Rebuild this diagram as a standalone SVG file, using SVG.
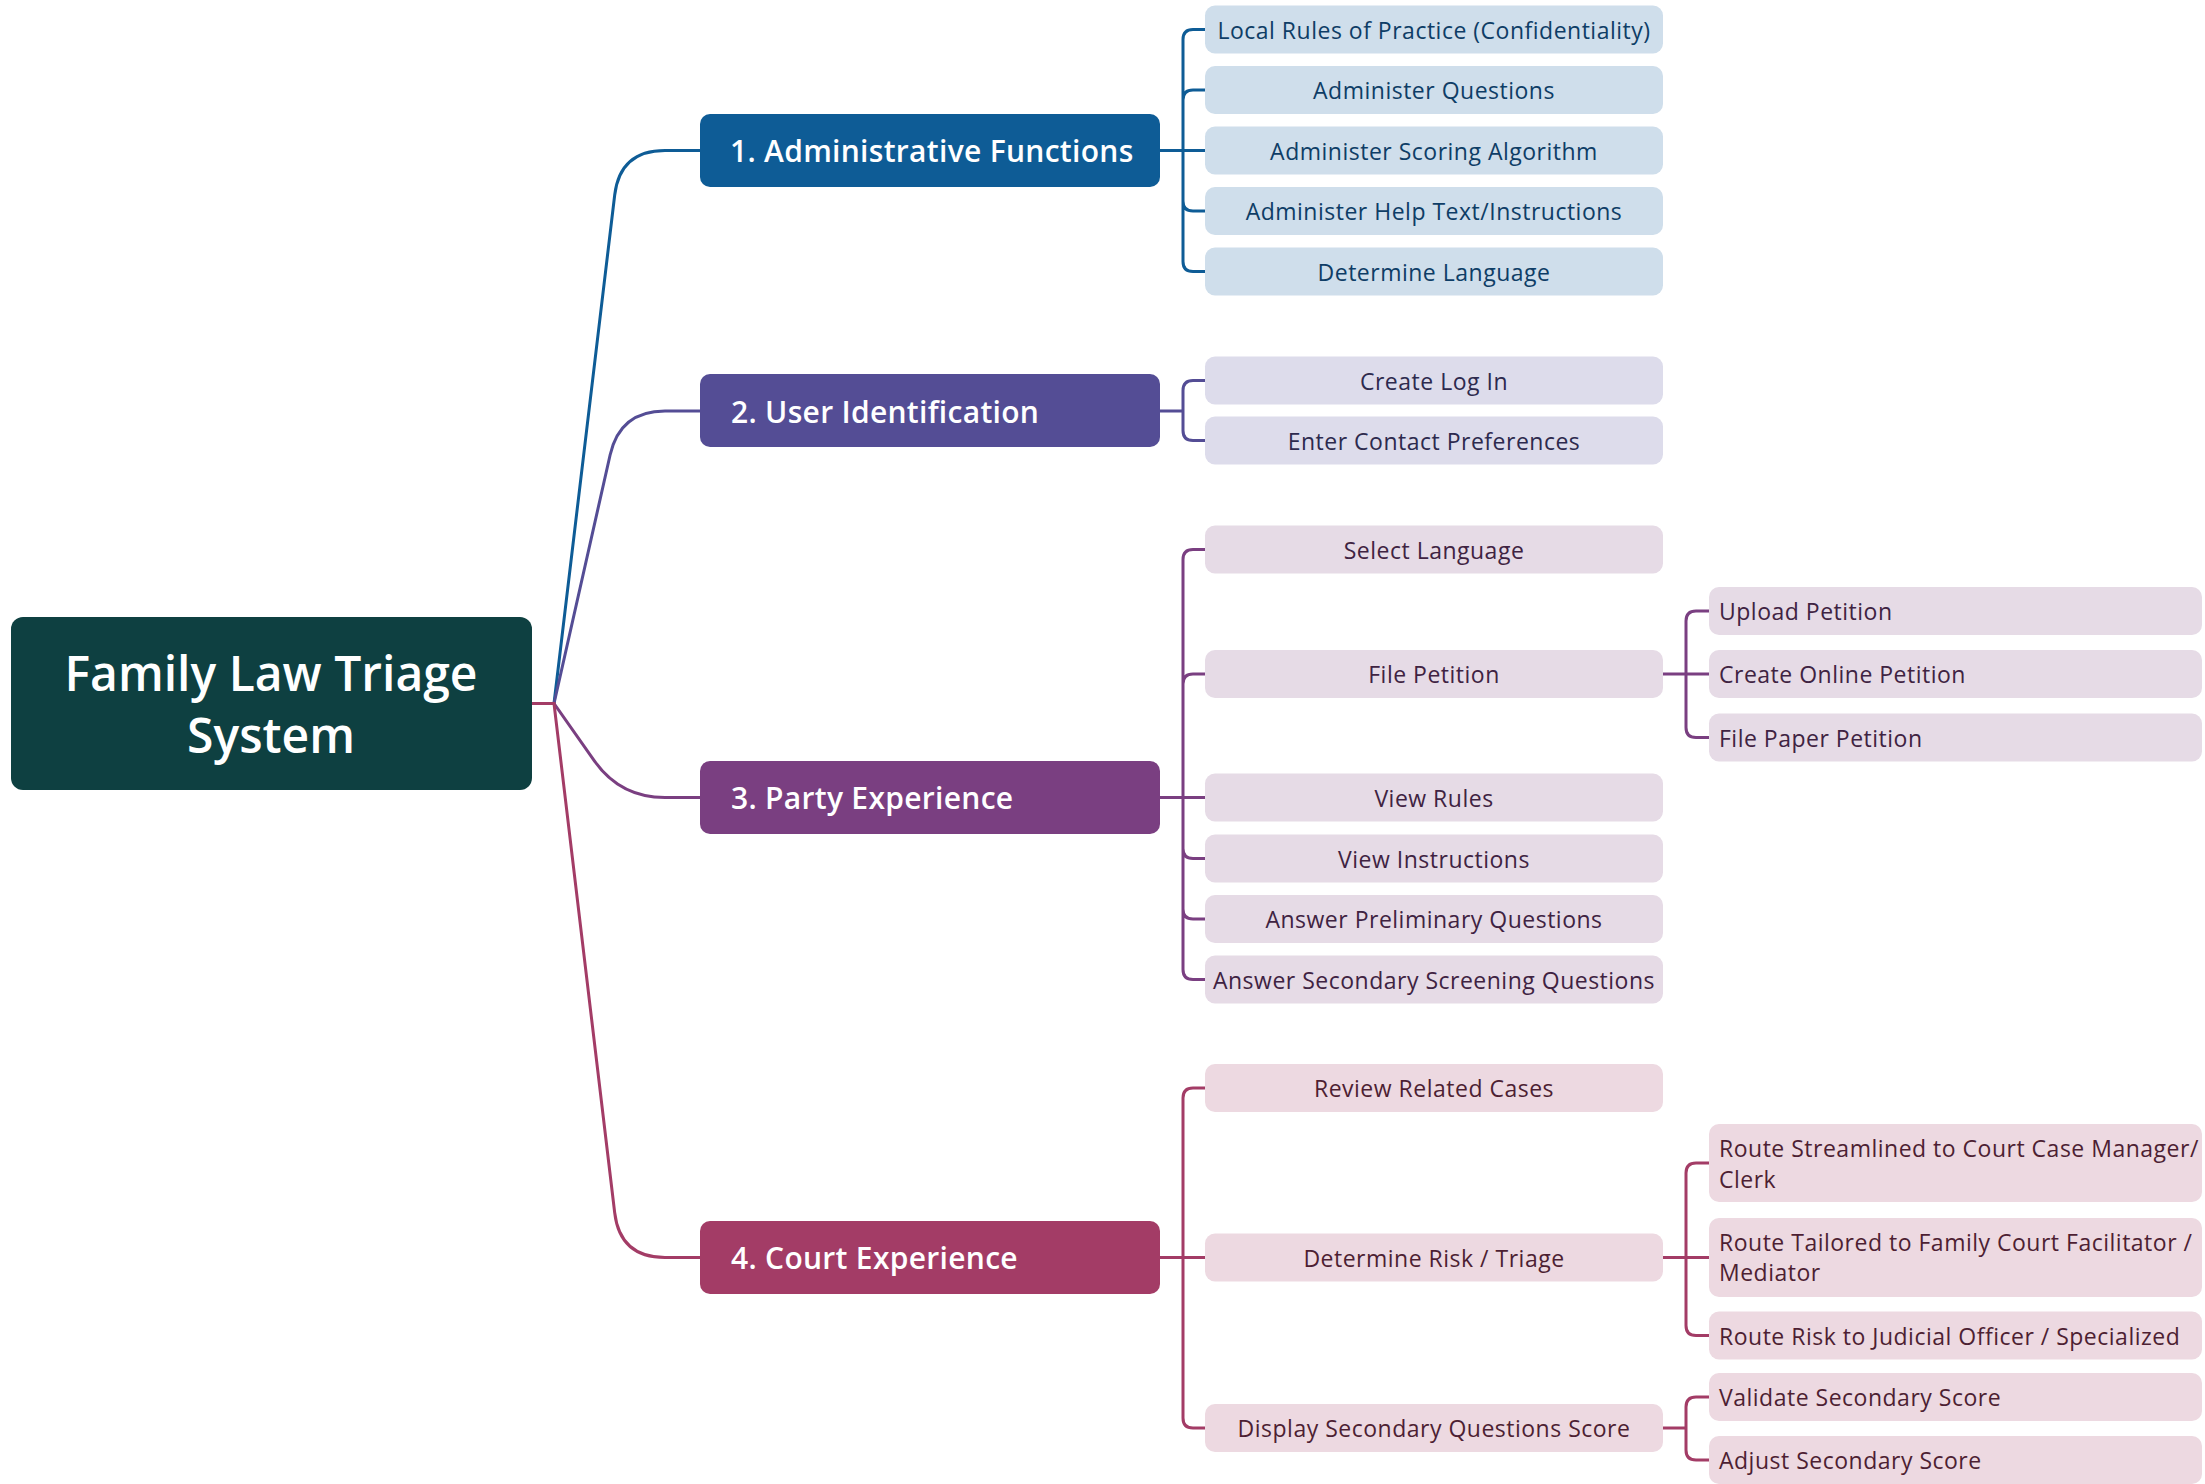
<svg xmlns="http://www.w3.org/2000/svg" width="2205" height="1484" viewBox="0 0 2205 1484">
<style>
text{font-family:"Open Sans","Liberation Sans",sans-serif;dominant-baseline:central}
.root rect{fill:#0e4041}
.root text{fill:#fff;font-size:48px;font-weight:600;text-anchor:middle}
.main text{fill:#fff;font-size:30px;font-weight:600;letter-spacing:0.3px}
.c text{font-size:23px;letter-spacing:0.5px;text-anchor:middle}
.g text{font-size:23px;letter-spacing:0.5px}
.b1 .box{fill:#0e5c96}.b2 .box{fill:#544d95}.b3 .box{fill:#7a3f81}.b4 .box{fill:#a33c66}
.k1 rect{fill:#cfdeeb}.k1 text{fill:#0e3d66}
.k2 rect{fill:#dddceb}.k2 text{fill:#2d2a4e}
.k3 rect{fill:#e6dbe6}.k3 text{fill:#3f2342}
.k4 rect{fill:#edd9e1}.k4 text{fill:#4d1f33}
.ln{fill:none;stroke-width:3}
.l1{stroke:#0e5c96}.l2{stroke:#544d95}.l3{stroke:#7a3f81}.l4{stroke:#a33c66}
</style>
<g id="connectors">
<path class="ln l1" d="M532,703.5 L554,703.5 L614.7,195 Q620,150.5 665,150.5 L700,150.5"/>
<path class="ln l2" d="M532,703.5 L554,703.5 L610.1,455 Q620,411 665,411 L700,411"/>
<path class="ln l3" d="M532,703.5 L554,703.5 L594.2,760.6 Q620,797.5 665,797.5 L700,797.5"/>
<path class="ln l4" d="M532,703.5 L554,703.5 L614.7,1212.8 Q620,1257.5 665,1257.5 L700,1257.5"/>
<path class="ln l1" d="M1160,150.5 H1183 V39.5 Q1183,29.5 1193,29.5 H1205 M1183,150.5 V100 Q1183,90 1193,90 H1205 M1160,150.5 H1205 M1183,150.5 V201 Q1183,211 1193,211 H1205 M1183,150.5 V261.5 Q1183,271.5 1193,271.5 H1205"/>
<path class="ln l2" d="M1160,411 H1183 V390.5 Q1183,380.5 1193,380.5 H1205 M1183,411 V430.5 Q1183,440.5 1193,440.5 H1205"/>
<path class="ln l3" d="M1160,797.5 H1183 V559.5 Q1183,549.5 1193,549.5 H1205 M1183,797.5 V684 Q1183,674 1193,674 H1205 M1160,797.5 H1205 M1183,797.5 V848.5 Q1183,858.5 1193,858.5 H1205 M1183,797.5 V909 Q1183,919 1193,919 H1205 M1183,797.5 V969.5 Q1183,979.5 1193,979.5 H1205"/>
<path class="ln l3" d="M1663,674 H1686 V621 Q1686,611 1696,611 H1709 M1663,674 H1709 M1686,674 V727.5 Q1686,737.5 1696,737.5 H1709"/>
<path class="ln l4" d="M1160,1257.5 H1183 V1098 Q1183,1088 1193,1088 H1205 M1160,1257.5 H1205 M1183,1257.5 V1418 Q1183,1428 1193,1428 H1205"/>
<path class="ln l4" d="M1663,1257.5 H1686 V1173 Q1686,1163 1696,1163 H1709 M1663,1257.5 H1709 M1686,1257.5 V1325.5 Q1686,1335.5 1696,1335.5 H1709"/>
<path class="ln l4" d="M1663,1428 H1686 V1407 Q1686,1397 1696,1397 H1709 M1686,1428 V1450 Q1686,1460 1696,1460 H1709"/>
</g>
<g id="root" class="root"><rect x="11" y="617" width="521" height="173" rx="12"/><text x="271" y="672">Family Law Triage</text><text x="271" y="734">System</text></g>
<g id="n1" class="main b1"><rect class="box" x="700" y="114" width="460" height="73" rx="10"/><text x="730" y="150.5">1. Administrative Functions</text></g>
<g id="n2" class="main b2"><rect class="box" x="700" y="374" width="460" height="73" rx="10"/><text x="731" y="411">2. User Identification</text></g>
<g id="n3" class="main b3"><rect class="box" x="700" y="761" width="460" height="73" rx="10"/><text x="731" y="797.5">3. Party Experience</text></g>
<g id="n4" class="main b4"><rect class="box" x="700" y="1221" width="460" height="73" rx="10"/><text x="731" y="1257.5">4. Court Experience</text></g>
<g class="c k1">
<g id="n1a"><rect x="1205" y="5.5" width="458" height="48" rx="10"/><text x="1434" y="29.5">Local Rules of Practice (Confidentiality)</text></g>
<g id="n1b"><rect x="1205" y="66" width="458" height="48" rx="10"/><text x="1434" y="90">Administer Questions</text></g>
<g id="n1c"><rect x="1205" y="126.5" width="458" height="48" rx="10"/><text x="1434" y="150.5">Administer Scoring Algorithm</text></g>
<g id="n1d"><rect x="1205" y="187" width="458" height="48" rx="10"/><text x="1434" y="211">Administer Help Text/Instructions</text></g>
<g id="n1e"><rect x="1205" y="247.5" width="458" height="48" rx="10"/><text x="1434" y="271.5">Determine Language</text></g>
</g>
<g class="c k2">
<g id="n2a"><rect x="1205" y="356.5" width="458" height="48" rx="10"/><text x="1434" y="380.5">Create Log In</text></g>
<g id="n2b"><rect x="1205" y="416.5" width="458" height="48" rx="10"/><text x="1434" y="440.5">Enter Contact Preferences</text></g>
</g>
<g class="c k3">
<g id="n3a"><rect x="1205" y="525.5" width="458" height="48" rx="10"/><text x="1434" y="549.5">Select Language</text></g>
<g id="n3b"><rect x="1205" y="650" width="458" height="48" rx="10"/><text x="1434" y="674">File Petition</text></g>
<g id="n3c"><rect x="1205" y="773.5" width="458" height="48" rx="10"/><text x="1434" y="797.5">View Rules</text></g>
<g id="n3d"><rect x="1205" y="834.5" width="458" height="48" rx="10"/><text x="1434" y="858.5">View Instructions</text></g>
<g id="n3e"><rect x="1205" y="895" width="458" height="48" rx="10"/><text x="1434" y="919">Answer Preliminary Questions</text></g>
<g id="n3f"><rect x="1205" y="955.5" width="458" height="48" rx="10"/><text x="1434" y="979.5">Answer Secondary Screening Questions</text></g>
</g>
<g class="g k3">
<g id="n3b1"><rect x="1709" y="587" width="493" height="48" rx="10"/><text x="1719" y="611">Upload Petition</text></g>
<g id="n3b2"><rect x="1709" y="650" width="493" height="48" rx="10"/><text x="1719" y="674">Create Online Petition</text></g>
<g id="n3b3"><rect x="1709" y="713.5" width="493" height="48" rx="10"/><text x="1719" y="737.5">File Paper Petition</text></g>
</g>
<g class="c k4">
<g id="n4a"><rect x="1205" y="1064" width="458" height="48" rx="10"/><text x="1434" y="1088">Review Related Cases</text></g>
<g id="n4b"><rect x="1205" y="1233.5" width="458" height="48" rx="10"/><text x="1434" y="1257.5">Determine Risk / Triage</text></g>
<g id="n4c"><rect x="1205" y="1404" width="458" height="48" rx="10"/><text x="1434" y="1428">Display Secondary Questions Score</text></g>
</g>
<g class="g k4">
<g id="n4b1"><rect x="1709" y="1124" width="493" height="78" rx="10"/><text x="1719" y="1147.5">Route Streamlined to Court Case Manager/</text><text x="1719" y="1178.5">Clerk</text></g>
<g id="n4b2"><rect x="1709" y="1218" width="493" height="79" rx="10"/><text x="1719" y="1242">Route Tailored to Family Court Facilitator /</text><text x="1719" y="1272">Mediator</text></g>
<g id="n4b3"><rect x="1709" y="1311.5" width="493" height="48" rx="10"/><text x="1719" y="1335.5">Route Risk to Judicial Officer / Specialized</text></g>
<g id="n4c1"><rect x="1709" y="1373" width="493" height="48" rx="10"/><text x="1719" y="1397">Validate Secondary Score</text></g>
<g id="n4c2"><rect x="1709" y="1436" width="493" height="48" rx="10"/><text x="1719" y="1460">Adjust Secondary Score</text></g>
</g>
</svg>
